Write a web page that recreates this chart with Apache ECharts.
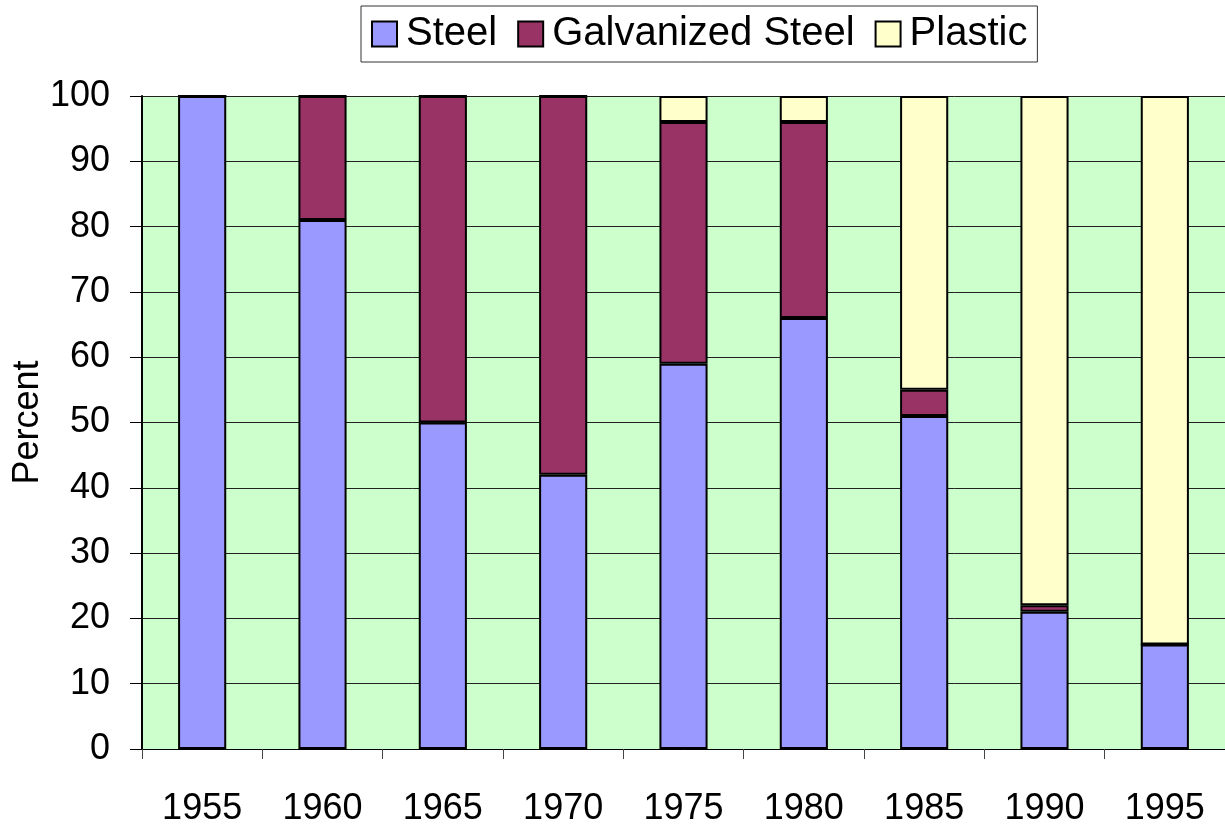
<!DOCTYPE html>
<html>
<head>
<meta charset="utf-8">
<script src="https://cdn.jsdelivr.net/npm/echarts@6/dist/echarts.min.js"></script>
<style>html,body{margin:0;padding:0;background:#fff}#c{width:1225px;height:827px}</style>
</head>
<body>
<div id="c"></div>
<script>
const years = ['1955','1960','1965','1970','1975','1980','1985','1990','1995'];
const steel = [100, 81, 50, 42, 59, 66, 51, 21, 16];
const galvanized = [0, 19, 50, 58, 37, 30, 4, 1, 0];
const plastic = [0, 0, 0, 0, 4, 4, 45, 78, 84];
const yTicks = [0,10,20,30,40,50,60,70,80,90,100];

const font = '"Liberation Sans", Arial, sans-serif';
const chart = echarts.init(document.getElementById('c'), null, {renderer:'canvas'});
const barStyle = (c) => ({color:c, borderColor:'#000', borderWidth:2});
chart.setOption({
  animation:false,
  backgroundColor:'#fff',
  legend:{
    top:6, left:361,
    icon:'rect',
    itemWidth:25, itemHeight:25, itemGap:20,
    padding:[8,10,8,10],
    borderColor:'#333', borderWidth:1,
    textStyle:{fontFamily:font, fontSize:40, color:'#000', padding:[0,0,0,4]},
    data:['Steel','Galvanized Steel','Plastic']
  },
  grid:{left:142, right:0, top:96, bottom:78, show:true, backgroundColor:'#ccffcc', borderWidth:0,
    containLabel:false, outerBoundsMode:'none'},
  xAxis:{
    type:'category', data:years,
    axisLine:{lineStyle:{color:'#000', width:1}},
    axisTick:{show:true, length:10, lineStyle:{color:'#444'}},
    axisLabel:{fontFamily:font, fontSize:36, color:'#000', margin:42}
  },
  yAxis:{
    type:'value', min:0, max:100, interval:10,
    name:'Percent', nameLocation:'middle', nameGap:96, nameMoveOverlap:false,
    nameTextStyle:{fontFamily:font, fontSize:36, color:'#000'},
    axisLine:{show:true, lineStyle:{color:'#000', width:2}},
    axisTick:{show:true, length:12, lineStyle:{color:'#000'}},
    axisLabel:{fontFamily:font, fontSize:36, color:'#000', margin:32,
      formatter:(v)=> yTicks.includes(v) ? String(v) : ''},
    splitLine:{show:true, lineStyle:{color:'#222', width:1}}
  },
  series:[
    {name:'Steel', type:'bar', stack:'t', barWidth:'40%', data:steel, itemStyle:barStyle('#9999ff')},
    {name:'Galvanized Steel', type:'bar', stack:'t', barWidth:'40%', data:galvanized, itemStyle:barStyle('#993366')},
    {name:'Plastic', type:'bar', stack:'t', barWidth:'40%', data:plastic, itemStyle:barStyle('#ffffcc')}
  ]
});
</script>
</body>
</html>
